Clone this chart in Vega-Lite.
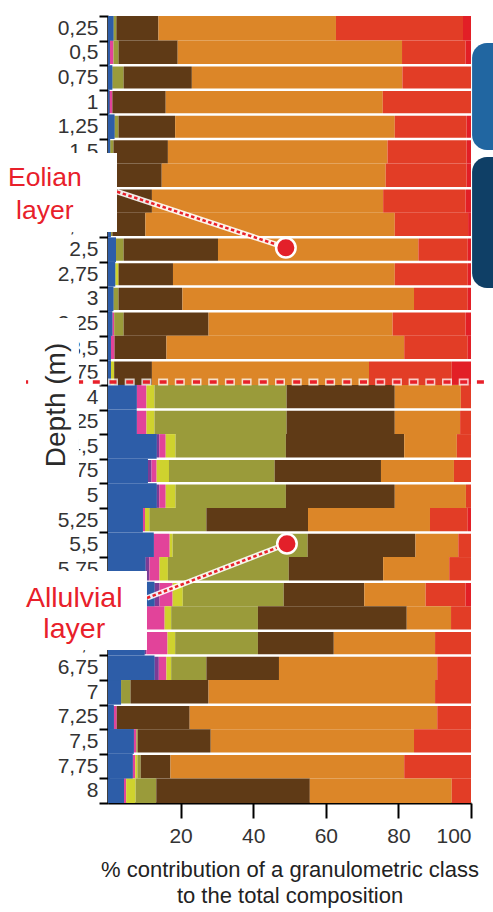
{
  "$schema": "https://vega.github.io/schema/vega-lite/v6.json",
  "width": 363,
  "height": 787,
  "autosize": "none",
  "padding": {"left": 108, "top": 16, "right": 22, "bottom": 109},
  "background": "white",
  "config": {"view": {"stroke": null}},
  "datasets": {
    "rows": [
      {"depth": 0.25, "clay": 1.5, "fine_silt": 0, "coarse_silt": 0, "vf_sand": 0, "fine_sand": 0.8, "medium_sand": 11.6, "coarse_sand": 48.9, "vc_sand": 35.0, "gravel": 2.2},
      {"depth": 0.5, "clay": 0.5, "fine_silt": 0, "coarse_silt": 1.0, "vf_sand": 0, "fine_sand": 1.4, "medium_sand": 16.3, "coarse_sand": 61.8, "vc_sand": 17.5, "gravel": 1.5},
      {"depth": 0.75, "clay": 1.2, "fine_silt": 0, "coarse_silt": 0, "vf_sand": 0, "fine_sand": 3.1, "medium_sand": 18.8, "coarse_sand": 58.0, "vc_sand": 18.9, "gravel": 0},
      {"depth": 1, "clay": 0.4, "fine_silt": 0, "coarse_silt": 0.8, "vf_sand": 0, "fine_sand": 0, "medium_sand": 14.7, "coarse_sand": 59.8, "vc_sand": 24.3, "gravel": 0},
      {"depth": 1.25, "clay": 1.8, "fine_silt": 0, "coarse_silt": 0, "vf_sand": 0, "fine_sand": 1.1, "medium_sand": 15.6, "coarse_sand": 60.5, "vc_sand": 19.8, "gravel": 1.2},
      {"depth": 1.5, "clay": 0.6, "fine_silt": 0, "coarse_silt": 0, "vf_sand": 0, "fine_sand": 0.9, "medium_sand": 15.0, "coarse_sand": 60.5, "vc_sand": 21.8, "gravel": 1.2},
      {"depth": 1.75, "clay": 0.8, "fine_silt": 0, "coarse_silt": 0, "vf_sand": 0, "fine_sand": 0.4, "medium_sand": 13.6, "coarse_sand": 61.7, "vc_sand": 22.3, "gravel": 1.2},
      {"depth": 2, "clay": 0.8, "fine_silt": 0, "coarse_silt": 0, "vf_sand": 0, "fine_sand": 0.4, "medium_sand": 10.9, "coarse_sand": 63.7, "vc_sand": 22.7, "gravel": 1.5},
      {"depth": 2.25, "clay": 0.8, "fine_silt": 0, "coarse_silt": 0, "vf_sand": 0, "fine_sand": 0.4, "medium_sand": 9.1, "coarse_sand": 68.7, "vc_sand": 20.2, "gravel": 0.8},
      {"depth": 2.5, "clay": 2.2, "fine_silt": 0, "coarse_silt": 0, "vf_sand": 0, "fine_sand": 2.1, "medium_sand": 26.0, "coarse_sand": 55.2, "vc_sand": 13.6, "gravel": 0.9},
      {"depth": 2.75, "clay": 2.0, "fine_silt": 0, "coarse_silt": 0, "vf_sand": 0.9, "fine_sand": 0, "medium_sand": 15.0, "coarse_sand": 61.1, "vc_sand": 20.1, "gravel": 0.9},
      {"depth": 3, "clay": 1.5, "fine_silt": 0, "coarse_silt": 0, "vf_sand": 0, "fine_sand": 1.4, "medium_sand": 17.6, "coarse_sand": 63.8, "vc_sand": 14.8, "gravel": 0.9},
      {"depth": 3.25, "clay": 1.2, "fine_silt": 0, "coarse_silt": 0.5, "vf_sand": 0, "fine_sand": 2.6, "medium_sand": 23.4, "coarse_sand": 50.7, "vc_sand": 20.1, "gravel": 1.5},
      {"depth": 3.5, "clay": 0.8, "fine_silt": 0, "coarse_silt": 1.0, "vf_sand": 0, "fine_sand": 0, "medium_sand": 14.3, "coarse_sand": 65.5, "vc_sand": 17.5, "gravel": 0.9},
      {"depth": 3.75, "clay": 0.8, "fine_silt": 0, "coarse_silt": 0, "vf_sand": 0.9, "fine_sand": 0, "medium_sand": 10.4, "coarse_sand": 59.8, "vc_sand": 22.8, "gravel": 5.3},
      {"depth": 4, "clay": 7.9, "fine_silt": 0, "coarse_silt": 2.7, "vf_sand": 2.2, "fine_sand": 36.4, "medium_sand": 29.8, "coarse_sand": 18.2, "vc_sand": 2.8, "gravel": 0},
      {"depth": 4.25, "clay": 7.9, "fine_silt": 0, "coarse_silt": 2.7, "vf_sand": 2.2, "fine_sand": 36.4, "medium_sand": 29.8, "coarse_sand": 18.0, "vc_sand": 3.0, "gravel": 0},
      {"depth": 4.5, "clay": 13.4, "fine_silt": 0.7, "coarse_silt": 1.8, "vf_sand": 2.7, "fine_sand": 30.4, "medium_sand": 32.6, "coarse_sand": 14.5, "vc_sand": 3.9, "gravel": 0},
      {"depth": 4.75, "clay": 11.0, "fine_silt": 1.0, "coarse_silt": 1.4, "vf_sand": 3.4, "fine_sand": 29.1, "medium_sand": 29.3, "coarse_sand": 20.1, "vc_sand": 4.7, "gravel": 0},
      {"depth": 5, "clay": 13.4, "fine_silt": 0.7, "coarse_silt": 1.8, "vf_sand": 2.7, "fine_sand": 30.4, "medium_sand": 30.0, "coarse_sand": 19.6, "vc_sand": 1.4, "gravel": 0},
      {"depth": 5.25, "clay": 9.6, "fine_silt": 0, "coarse_silt": 0.6, "vf_sand": 1.2, "fine_sand": 15.7, "medium_sand": 28.0, "coarse_sand": 33.6, "vc_sand": 10.4, "gravel": 0.9},
      {"depth": 5.5, "clay": 12.6, "fine_silt": 0, "coarse_silt": 4.4, "vf_sand": 0.8, "fine_sand": 37.2, "medium_sand": 29.7, "coarse_sand": 11.8, "vc_sand": 3.5, "gravel": 0},
      {"depth": 5.75, "clay": 10.3, "fine_silt": 1.1, "coarse_silt": 2.8, "vf_sand": 2.3, "fine_sand": 33.3, "medium_sand": 26.0, "coarse_sand": 18.2, "vc_sand": 6.0, "gravel": 0},
      {"depth": 6, "clay": 12.8, "fine_silt": 1.4, "coarse_silt": 3.6, "vf_sand": 2.8, "fine_sand": 27.8, "medium_sand": 22.2, "coarse_sand": 16.9, "vc_sand": 11.0, "gravel": 1.5},
      {"depth": 6.25, "clay": 8.7, "fine_silt": 1.9, "coarse_silt": 5.0, "vf_sand": 1.8, "fine_sand": 23.9, "medium_sand": 41.0, "coarse_sand": 12.2, "vc_sand": 5.5, "gravel": 0},
      {"depth": 6.5, "clay": 10.1, "fine_silt": 0.5, "coarse_silt": 5.8, "vf_sand": 2.1, "fine_sand": 22.8, "medium_sand": 20.9, "coarse_sand": 27.9, "vc_sand": 9.9, "gravel": 0},
      {"depth": 6.75, "clay": 12.8, "fine_silt": 1.2, "coarse_silt": 2.1, "vf_sand": 1.3, "fine_sand": 9.7, "medium_sand": 20.0, "coarse_sand": 43.6, "vc_sand": 9.3, "gravel": 0},
      {"depth": 7, "clay": 3.6, "fine_silt": 0, "coarse_silt": 0, "vf_sand": 0, "fine_sand": 2.6, "medium_sand": 21.5, "coarse_sand": 62.4, "vc_sand": 9.9, "gravel": 0},
      {"depth": 7.25, "clay": 1.6, "fine_silt": 0, "coarse_silt": 0.8, "vf_sand": 0, "fine_sand": 0, "medium_sand": 20.1, "coarse_sand": 68.2, "vc_sand": 9.3, "gravel": 0},
      {"depth": 7.5, "clay": 7.1, "fine_silt": 0, "coarse_silt": 0.7, "vf_sand": 0, "fine_sand": 0.4, "medium_sand": 20.1, "coarse_sand": 56.0, "vc_sand": 15.7, "gravel": 0},
      {"depth": 7.75, "clay": 6.8, "fine_silt": 0, "coarse_silt": 0.7, "vf_sand": 0.6, "fine_sand": 0.9, "medium_sand": 8.2, "coarse_sand": 64.4, "vc_sand": 18.4, "gravel": 0},
      {"depth": 8, "clay": 4.4, "fine_silt": 0, "coarse_silt": 0.6, "vf_sand": 2.6, "fine_sand": 5.7, "medium_sand": 42.3, "coarse_sand": 39.1, "vc_sand": 5.3, "gravel": 0}
    ],
    "classes": [
      {"class": "clay", "rank": 1},
      {"class": "fine_silt", "rank": 2},
      {"class": "coarse_silt", "rank": 3},
      {"class": "vf_sand", "rank": 4},
      {"class": "fine_sand", "rank": 5},
      {"class": "medium_sand", "rank": 6},
      {"class": "coarse_sand", "rank": 7},
      {"class": "vc_sand", "rank": 8},
      {"class": "gravel", "rank": 9}
    ],
    "seps": [
      {"depth": 0.75}, {"depth": 1}, {"depth": 1.25}, {"depth": 1.5}, {"depth": 2},
      {"depth": 2.5}, {"depth": 2.75}, {"depth": 3}, {"depth": 3.25}, {"depth": 3.75},
      {"depth": 4.25}, {"depth": 4.75}, {"depth": 5}, {"depth": 5.5}, {"depth": 6},
      {"depth": 6.5}, {"depth": 6.75}, {"depth": 7.25}, {"depth": 7.75}
    ],
    "boundary": [{"x1": -23, "x2": 106, "d": 3.845}],
    "connectors": [
      {"x1": 2.48, "d1": 1.911, "x2": 49.0, "d2": 2.48},
      {"x1": 10.74, "d1": 6.041, "x2": 49.3, "d2": 5.49}
    ],
    "circles": [{"x": 49.0, "d": 2.48}, {"x": 49.3, "d": 5.49}],
    "boxes": [
      {"x1": -30, "x2": 2.48, "d1": 1.518, "d2": 2.321},
      {"x1": -30, "x2": 10.74, "d1": 5.767, "d2": 6.570},
      {"x1": -22.0, "x2": -8.0, "d1": 3.195, "d2": 4.943}
    ],
    "eolian": [{"text": "Eolian\nlayer", "x": -17.4, "d": 1.772}],
    "alluvial": [{"text": "Allulvial\nlayer", "x": -9.3, "d": 6.041}],
    "ytitle": [{"text": "Depth (m)", "x": -14.05, "d": 4.079}],
    "panelA": [{"x1": 100.3, "x2": 115, "d1": 0.399, "d2": 1.487}],
    "panelB": [{"x1": 100.3, "x2": 115, "d1": 1.558, "d2": 2.890}]
  },
  "resolve": {"scale": {"y": "independent"}},
  "layer": [
    {
      "layer": [
        {
          "data": {"name": "rows"},
          "transform": [
            {"fold": ["clay", "fine_silt", "coarse_silt", "vf_sand", "fine_sand", "medium_sand", "coarse_sand", "vc_sand", "gravel"], "as": ["class", "value"]},
            {"lookup": "class", "from": {"data": {"name": "classes"}, "key": "class", "fields": ["rank"]}}
          ],
          "mark": {"type": "bar"},
          "encoding": {
            "y": {
              "field": "depth", "type": "ordinal",
              "scale": {"type": "band", "domain": [0.25, 0.5, 0.75, 1, 1.25, 1.5, 1.75, 2, 2.25, 2.5, 2.75, 3, 3.25, 3.5, 3.75, 4, 4.25, 4.5, 4.75, 5, 5.25, 5.5, 5.75, 6, 6.25, 6.5, 6.75, 7, 7.25, 7.5, 7.75, 8], "paddingInner": 0, "paddingOuter": 0},
              "axis": {
                "title": null, "tickBand": "extent", "zindex": 0,
                "domainColor": "#000", "domainWidth": 2.5,
                "tickColor": "#000", "tickWidth": 2, "tickSize": 9,
                "labelPadding": 1, "labelFont": "Liberation Sans", "labelFontSize": 21, "labelColor": "#333",
                "labelExpr": "replace(datum.label, '.', ',')"
              }
            },
            "x": {
              "field": "value", "type": "quantitative", "stack": "zero",
              "scale": {"domain": [0, 100], "nice": false, "zero": false},
              "axis": {
                "values": [20, 40, 60, 80, 100], "grid": false,
                "title": ["% contribution of a granulometric class", "to the total composition"],
                "titleFont": "Liberation Sans", "titleFontSize": 22, "titleFontWeight": "normal", "titleColor": "#222",
                "titleLineHeight": 26, "titlePadding": 13,
                "labelFont": "Liberation Sans", "labelFontSize": 21, "labelColor": "#333", "labelPadding": 7,
                "tickSize": 15, "tickWidth": 2, "tickColor": "#000",
                "domainColor": "#000", "domainWidth": 2
              }
            },
            "color": {
              "field": "class", "type": "nominal",
              "scale": {
                "domain": ["clay", "fine_silt", "coarse_silt", "vf_sand", "fine_sand", "medium_sand", "coarse_sand", "vc_sand", "gravel"],
                "range": ["#2D5DA8", "#7A3C96", "#E2439A", "#CFD22E", "#9A9B3A", "#5F3A16", "#DC8628", "#E23D26", "#E21F26"]
              },
              "legend": null
            },
            "order": {"field": "rank", "type": "quantitative"}
          }
        },
        {
          "data": {"name": "seps"},
          "mark": {"type": "rule", "color": "white", "strokeWidth": 2.5},
          "encoding": {
            "y": {"field": "depth", "type": "ordinal", "bandPosition": 0,
              "scale": {"type": "band", "domain": [0.25, 0.5, 0.75, 1, 1.25, 1.5, 1.75, 2, 2.25, 2.5, 2.75, 3, 3.25, 3.5, 3.75, 4, 4.25, 4.5, 4.75, 5, 5.25, 5.5, 5.75, 6, 6.25, 6.5, 6.75, 7, 7.25, 7.5, 7.75, 8], "paddingInner": 0, "paddingOuter": 0}},
            "x": {"datum": 0, "type": "quantitative", "scale": {"domain": [0, 100], "nice": false, "zero": false}},
            "x2": {"datum": 100}
          }
        },
        {
          "data": {"name": "rows"},
          "mark": {"type": "bar", "color": "#2D5DA8"},
          "encoding": {
            "y": {"field": "depth", "type": "ordinal",
              "scale": {"type": "band", "domain": [0.25, 0.5, 0.75, 1, 1.25, 1.5, 1.75, 2, 2.25, 2.5, 2.75, 3, 3.25, 3.5, 3.75, 4, 4.25, 4.5, 4.75, 5, 5.25, 5.5, 5.75, 6, 6.25, 6.5, 6.75, 7, 7.25, 7.5, 7.75, 8], "paddingInner": 0, "paddingOuter": 0}},
            "x": {"field": "clay", "type": "quantitative", "scale": {"domain": [0, 100], "nice": false, "zero": false}}
          }
        }
      ]
    },
    {
      "layer": [
        {
          "data": {"name": "boundary"},
          "mark": {"type": "rule", "color": "#ffffff", "strokeWidth": 7, "strokeDash": [10, 6.7], "opacity": 0.75},
          "encoding": {
            "x": {"field": "x1", "type": "quantitative", "scale": {"domain": [0, 100], "nice": false, "zero": false}},
            "x2": {"field": "x2"},
            "y": {"field": "d", "type": "quantitative", "scale": {"domain": [0.125, 8.125], "reverse": true, "nice": false, "zero": false}, "axis": null}
          }
        },
        {
          "data": {"name": "boundary"},
          "mark": {"type": "rule", "color": "#E8202A", "strokeWidth": 3.5, "strokeDash": [7, 9.7], "strokeDashOffset": -1.5},
          "encoding": {
            "x": {"field": "x1", "type": "quantitative", "scale": {"domain": [0, 100], "nice": false, "zero": false}},
            "x2": {"field": "x2"},
            "y": {"field": "d", "type": "quantitative", "scale": {"domain": [0.125, 8.125], "reverse": true, "nice": false, "zero": false}, "axis": null}
          }
        },
        {
          "data": {"name": "connectors"},
          "mark": {"type": "rule", "color": "#ffffff", "strokeWidth": 5.5, "opacity": 0.9},
          "encoding": {
            "x": {"field": "x1", "type": "quantitative", "scale": {"domain": [0, 100], "nice": false, "zero": false}},
            "x2": {"field": "x2"},
            "y": {"field": "d1", "type": "quantitative", "scale": {"domain": [0.125, 8.125], "reverse": true, "nice": false, "zero": false}, "axis": null},
            "y2": {"field": "d2"}
          }
        },
        {
          "data": {"name": "connectors"},
          "mark": {"type": "rule", "color": "#E8202A", "strokeWidth": 2.5, "strokeDash": [3.5, 2.5]},
          "encoding": {
            "x": {"field": "x1", "type": "quantitative", "scale": {"domain": [0, 100], "nice": false, "zero": false}},
            "x2": {"field": "x2"},
            "y": {"field": "d1", "type": "quantitative", "scale": {"domain": [0.125, 8.125], "reverse": true, "nice": false, "zero": false}, "axis": null},
            "y2": {"field": "d2"}
          }
        },
        {
          "data": {"name": "circles"},
          "mark": {"type": "point", "shape": "circle", "filled": true, "color": "#E3202A", "size": 380, "stroke": "#ffffff", "strokeWidth": 2.5, "opacity": 1},
          "encoding": {
            "x": {"field": "x", "type": "quantitative", "scale": {"domain": [0, 100], "nice": false, "zero": false}},
            "y": {"field": "d", "type": "quantitative", "scale": {"domain": [0.125, 8.125], "reverse": true, "nice": false, "zero": false}, "axis": null}
          }
        },
        {
          "data": {"name": "boxes"},
          "mark": {"type": "rect", "color": "#ffffff"},
          "encoding": {
            "x": {"field": "x1", "type": "quantitative", "scale": {"domain": [0, 100], "nice": false, "zero": false}},
            "x2": {"field": "x2"},
            "y": {"field": "d1", "type": "quantitative", "scale": {"domain": [0.125, 8.125], "reverse": true, "nice": false, "zero": false}, "axis": null},
            "y2": {"field": "d2"}
          }
        },
        {
          "data": {"name": "eolian"},
          "mark": {"type": "text", "font": "Liberation Sans", "fontSize": 26.5, "color": "#E8202A", "lineBreak": "\n", "lineHeight": 33, "align": "center", "baseline": "middle"},
          "encoding": {
            "x": {"field": "x", "type": "quantitative", "scale": {"domain": [0, 100], "nice": false, "zero": false}},
            "y": {"field": "d", "type": "quantitative", "scale": {"domain": [0.125, 8.125], "reverse": true, "nice": false, "zero": false}, "axis": null},
            "text": {"field": "text"}
          }
        },
        {
          "data": {"name": "alluvial"},
          "mark": {"type": "text", "font": "Liberation Sans", "fontSize": 28.5, "color": "#E8202A", "lineBreak": "\n", "lineHeight": 31, "align": "center", "baseline": "middle"},
          "encoding": {
            "x": {"field": "x", "type": "quantitative", "scale": {"domain": [0, 100], "nice": false, "zero": false}},
            "y": {"field": "d", "type": "quantitative", "scale": {"domain": [0.125, 8.125], "reverse": true, "nice": false, "zero": false}, "axis": null},
            "text": {"field": "text"}
          }
        },
        {
          "data": {"name": "ytitle"},
          "mark": {"type": "text", "font": "Liberation Sans", "fontSize": 28, "color": "#2a2a2a", "angle": 270, "align": "center", "baseline": "middle"},
          "encoding": {
            "x": {"field": "x", "type": "quantitative", "scale": {"domain": [0, 100], "nice": false, "zero": false}},
            "y": {"field": "d", "type": "quantitative", "scale": {"domain": [0.125, 8.125], "reverse": true, "nice": false, "zero": false}, "axis": null},
            "text": {"field": "text"}
          }
        },
        {
          "data": {"name": "panelA"},
          "mark": {"type": "rect", "color": "#2166A1", "cornerRadius": 15},
          "encoding": {
            "x": {"field": "x1", "type": "quantitative", "scale": {"domain": [0, 100], "nice": false, "zero": false}},
            "x2": {"field": "x2"},
            "y": {"field": "d1", "type": "quantitative", "scale": {"domain": [0.125, 8.125], "reverse": true, "nice": false, "zero": false}, "axis": null},
            "y2": {"field": "d2"}
          }
        },
        {
          "data": {"name": "panelB"},
          "mark": {"type": "rect", "color": "#0F3F66", "cornerRadius": 15},
          "encoding": {
            "x": {"field": "x1", "type": "quantitative", "scale": {"domain": [0, 100], "nice": false, "zero": false}},
            "x2": {"field": "x2"},
            "y": {"field": "d1", "type": "quantitative", "scale": {"domain": [0.125, 8.125], "reverse": true, "nice": false, "zero": false}, "axis": null},
            "y2": {"field": "d2"}
          }
        }
      ]
    }
  ]
}
